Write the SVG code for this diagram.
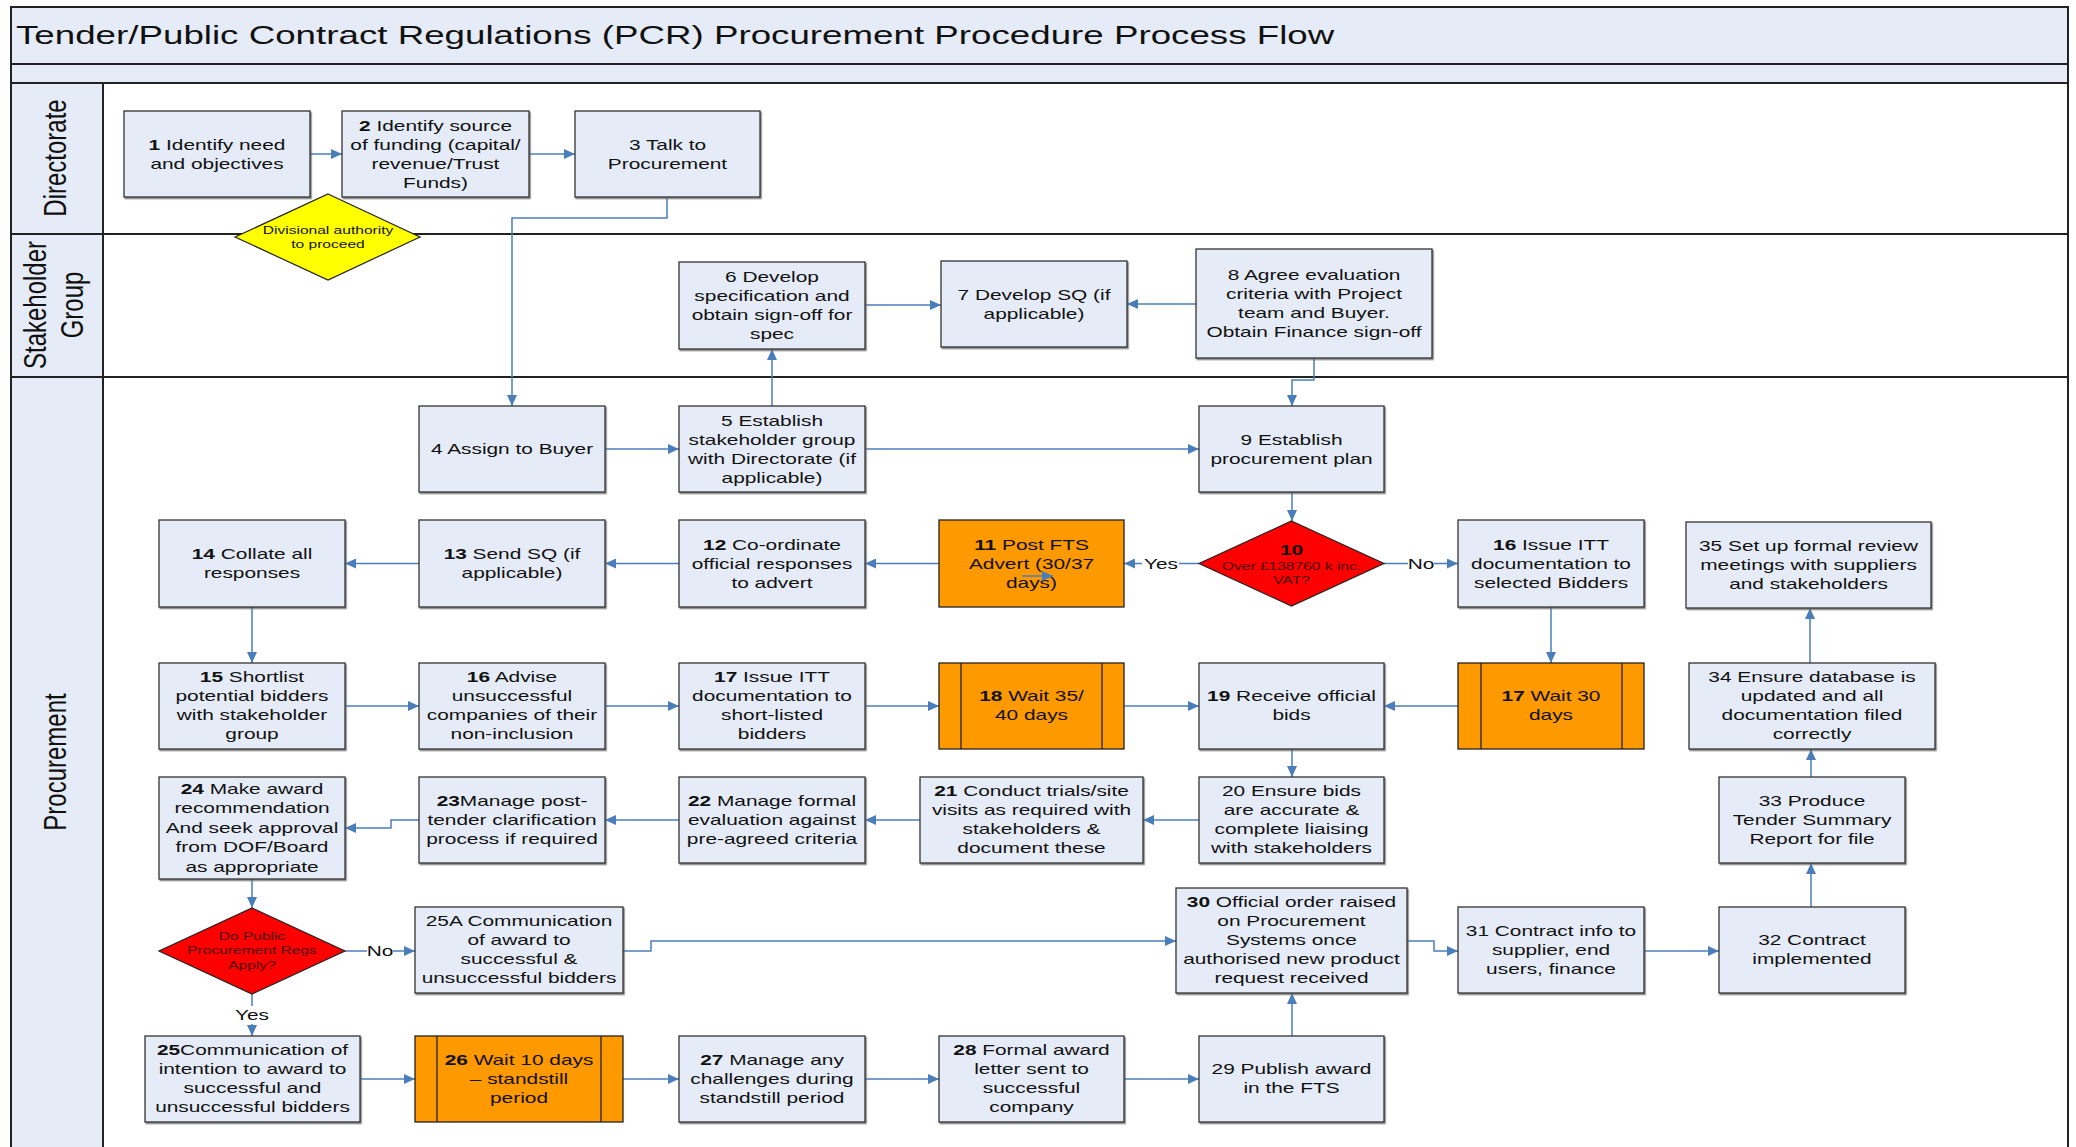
<svg xmlns="http://www.w3.org/2000/svg" width="2076" height="1147" viewBox="0 0 2076 1147">
<defs>
<style>
.t{font-family:"Liberation Sans",Arial,sans-serif;font-size:15px;fill:#111;text-anchor:middle}
.s{font-size:11.2px}
.dr{fill:#4d0000}
.b{font-weight:bold}
.title{font-family:"Liberation Sans",Arial,sans-serif;font-size:25.5px;fill:#111}
.lane{font-family:"Liberation Sans",Arial,sans-serif;font-size:24px;fill:#111;text-anchor:middle}
.box{fill:#E6ECF7;stroke:#333;stroke-width:1.3;filter:url(#sh)}
.org{fill:#FF9900;stroke:#222;stroke-width:1.3}
.red{fill:#FF0000;stroke:#222;stroke-width:1.2}
.yel{fill:#FFFF00;stroke:#222;stroke-width:1.2}
.il{stroke:#222;stroke-width:1.3}
.hdr{fill:#E6ECF7;stroke:#222;stroke-width:2}
.ln{fill:#fff;stroke:#222;stroke-width:2}
.c{fill:none;stroke:#4A7EBB;stroke-width:1.5;marker-end:url(#ah)}
.lb{fill:#fff}
</style>
<marker id="ah" markerUnits="userSpaceOnUse" markerWidth="12" markerHeight="10" refX="11" refY="5" orient="auto">
<path d="M0,0 L11,5 L0,10 Z" fill="#4A7EBB"/>
</marker>
<filter id="sh" x="-5%" y="-5%" width="110%" height="115%">
<feDropShadow dx="1.2" dy="1.5" stdDeviation="0.6" flood-color="#666" flood-opacity="0.8"/>
</filter>
</defs>

<g id="frame">
<rect class="hdr" x="11" y="7" width="2057" height="57"/>
<text class="title" transform="matrix(1.44 0 0 1 16 0)" x="0" y="44">Tender/Public Contract Regulations (PCR) Procurement Procedure Process Flow</text>
<rect class="hdr" x="11" y="64" width="2057" height="19"/>
<rect class="ln" x="11" y="83" width="2057" height="151"/>
<rect class="ln" x="11" y="234" width="2057" height="143"/>
<rect class="ln" x="11" y="377" width="2057" height="780"/>
<rect class="hdr" x="11" y="83" width="92" height="151"/>
<rect class="hdr" x="11" y="234" width="92" height="143"/>
<rect class="hdr" x="11" y="377" width="92" height="780"/>
<text class="lane" transform="translate(66,158) rotate(-90) scale(1,1.3)">Directorate</text>
<text class="lane" transform="translate(46,305) rotate(-90) scale(1,1.3)">Stakeholder</text>
<text class="lane" transform="translate(83,305) rotate(-90) scale(1,1.3)">Group</text>
<text class="lane" transform="translate(66,762) rotate(-90) scale(1,1.3)">Procurement</text>
</g>

<g id="connectors">
<path class="c" d="M310,154 H342"/>
<path class="c" d="M529,154 H575"/>
<path class="c" d="M667,197 V218 H512 V406"/>
<path class="c" d="M772,406 V349"/>
<path class="c" d="M865,305 H941"/>
<path class="c" d="M1196,304 H1127"/>
<path class="c" d="M1314,358 V380 H1292 V406"/>
<path class="c" d="M605,449 H679"/>
<path class="c" d="M865,449 H1199"/>
<path class="c" d="M1292,492 V521"/>
<path class="c" d="M1199,563.5 H1124"/>
<path class="c" d="M1384,563.5 H1458"/>
<path class="c" d="M939,563.5 H865"/>
<path class="c" d="M679,563.5 H605"/>
<path class="c" d="M419,563.5 H345"/>
<path class="c" d="M252,607 V663"/>
<path class="c" d="M345,706 H419"/>
<path class="c" d="M605,706 H679"/>
<path class="c" d="M865,706 H939"/>
<path class="c" d="M1124,706 H1199"/>
<path class="c" d="M1458,706 H1384"/>
<path class="c" d="M1551,607 V663"/>
<path class="c" d="M1292,749 V777"/>
<path class="c" d="M1199,820 H1143"/>
<path class="c" d="M920,820 H865"/>
<path class="c" d="M679,820 H605"/>
<path class="c" d="M419,820 H391 V828 H345"/>
<path class="c" d="M252,879 V908"/>
<path class="c" d="M345,951 H415"/>
<path class="c" d="M252,994 V1036"/>
<path class="c" d="M360,1079 H415"/>
<path class="c" d="M623,1079 H679"/>
<path class="c" d="M865,1079 H939"/>
<path class="c" d="M1124,1079 H1199"/>
<path class="c" d="M1292,1036 V993"/>
<path class="c" d="M623,951 H651 V941 H1176"/>
<path class="c" d="M1407,941 H1434 V951 H1458"/>
<path class="c" d="M1644,951 H1719"/>
<path class="c" d="M1811,907 V863"/>
<path class="c" d="M1811,777 V749"/>
<path class="c" d="M1810,663 V608"/>
<rect class="lb" x="1142" y="554" width="37" height="18"/>
<text class="t" transform="matrix(1.39 0 0 1 1161 0)" x="0" y="569">Yes</text>
<rect class="lb" x="1408" y="554" width="26" height="18"/>
<text class="t" transform="matrix(1.39 0 0 1 1421 0)" x="0" y="569">No</text>
<rect class="lb" x="367" y="942" width="26" height="18"/>
<text class="t" transform="matrix(1.39 0 0 1 380 0)" x="0" y="956">No</text>
<rect class="lb" x="233" y="1006" width="38" height="18"/>
<text class="t" transform="matrix(1.39 0 0 1 252 0)" x="0" y="1020">Yes</text>
</g>

<g id="n1"><rect class="box" x="124" y="111" width="186" height="86"/><text class="t" transform="matrix(1.39 0 0 1 217 0)"><tspan x="0" y="150" class="b">1</tspan><tspan> Identify need</tspan><tspan x="0" y="169">and objectives</tspan></text></g>
<g id="n2"><rect class="box" x="342" y="111" width="187" height="86"/><text class="t" transform="matrix(1.39 0 0 1 435.5 0)"><tspan x="0" y="131" class="b">2</tspan><tspan> Identify source</tspan><tspan x="0" y="150">of funding (capital/</tspan><tspan x="0" y="169">revenue/Trust</tspan><tspan x="0" y="188">Funds)</tspan></text></g>
<g id="n3"><rect class="box" x="575" y="111" width="185" height="86"/><text class="t" transform="matrix(1.39 0 0 1 667.5 0)"><tspan x="0" y="150">3 Talk to</tspan><tspan x="0" y="169">Procurement</tspan></text></g>
<g id="d_auth"><polygon class="yel" points="328,194 420,237 328,280 235,237"/><text class="t s" transform="matrix(1.39 0 0 1 328 0)"><tspan x="0" y="234">Divisional authority</tspan><tspan x="0" y="248">to proceed</tspan></text></g>

<g id="n6"><rect class="box" x="679" y="262" width="186" height="87"/><text class="t" transform="matrix(1.39 0 0 1 772 0)"><tspan x="0" y="282">6 Develop</tspan><tspan x="0" y="301">specification and</tspan><tspan x="0" y="320">obtain sign-off for</tspan><tspan x="0" y="339">spec</tspan></text></g>
<g id="n7"><rect class="box" x="941" y="261" width="186" height="86"/><text class="t" transform="matrix(1.39 0 0 1 1034 0)"><tspan x="0" y="300">7 Develop SQ (if</tspan><tspan x="0" y="319">applicable)</tspan></text></g>
<g id="n8"><rect class="box" x="1196" y="249" width="236" height="109"/><text class="t" transform="matrix(1.39 0 0 1 1314 0)"><tspan x="0" y="280">8 Agree evaluation</tspan><tspan x="0" y="299">criteria with Project</tspan><tspan x="0" y="318">team and Buyer.</tspan><tspan x="0" y="337">Obtain Finance sign-off</tspan></text></g>

<g id="n4"><rect class="box" x="419" y="406" width="186" height="86"/><text class="t" transform="matrix(1.39 0 0 1 512 0)"><tspan x="0" y="454">4 Assign to Buyer</tspan></text></g>
<g id="n5"><rect class="box" x="679" y="406" width="186" height="86"/><text class="t" transform="matrix(1.39 0 0 1 772 0)"><tspan x="0" y="426">5 Establish</tspan><tspan x="0" y="445">stakeholder group</tspan><tspan x="0" y="464">with Directorate (if</tspan><tspan x="0" y="483">applicable)</tspan></text></g>
<g id="n9"><rect class="box" x="1199" y="406" width="185" height="86"/><text class="t" transform="matrix(1.39 0 0 1 1291.5 0)"><tspan x="0" y="445">9  Establish</tspan><tspan x="0" y="464">procurement plan</tspan></text></g>
<g id="n10"><polygon class="red" points="1291.5,521 1384,563.5 1291.5,606 1199,563.5"/><text class="t" transform="matrix(1.39 0 0 1 1291.5 0)"><tspan x="0" y="555" class="b">10</tspan></text><text class="t s dr" transform="matrix(1.39 0 0 1 1291.5 0)"><tspan x="0" y="570">Over £138760 k inc.</tspan><tspan x="0" y="584">VAT?</tspan></text></g>
<g id="n11"><rect class="org" x="939" y="520" width="185" height="87"/><text class="t" transform="matrix(1.39 0 0 1 1031.5 0)"><tspan x="0" y="550" class="b">11</tspan><tspan> Post FTS</tspan><tspan x="0" y="569">Advert  (30/37</tspan><tspan x="0" y="588">days)</tspan></text></g>
<g id="n12"><rect class="box" x="679" y="520" width="186" height="87"/><text class="t" transform="matrix(1.39 0 0 1 772 0)"><tspan x="0" y="550" class="b">12</tspan><tspan> Co-ordinate</tspan><tspan x="0" y="569">official responses</tspan><tspan x="0" y="588">to advert</tspan></text></g>
<g id="n13"><rect class="box" x="419" y="520" width="186" height="87"/><text class="t" transform="matrix(1.39 0 0 1 512 0)"><tspan x="0" y="559" class="b">13</tspan><tspan> Send SQ (if</tspan><tspan x="0" y="578">applicable)</tspan></text></g>
<g id="n14"><rect class="box" x="159" y="520" width="186" height="87"/><text class="t" transform="matrix(1.39 0 0 1 252 0)"><tspan x="0" y="559" class="b">14</tspan><tspan>  Collate all</tspan><tspan x="0" y="578">responses</tspan></text></g>
<g id="n16b"><rect class="box" x="1458" y="520" width="186" height="87"/><text class="t" transform="matrix(1.39 0 0 1 1551 0)"><tspan x="0" y="550" class="b">16</tspan><tspan> Issue ITT</tspan><tspan x="0" y="569">documentation to</tspan><tspan x="0" y="588">selected Bidders</tspan></text></g>
<g id="n35"><rect class="box" x="1686" y="522" width="245" height="86"/><text class="t" transform="matrix(1.39 0 0 1 1808.5 0)"><tspan x="0" y="551">35 Set up formal review</tspan><tspan x="0" y="570">meetings with suppliers</tspan><tspan x="0" y="589">and stakeholders</tspan></text></g>

<g id="n15"><rect class="box" x="159" y="663" width="186" height="86"/><text class="t" transform="matrix(1.39 0 0 1 252 0)"><tspan x="0" y="682.5" class="b">15</tspan><tspan> Shortlist</tspan><tspan x="0" y="701.5">potential bidders</tspan><tspan x="0" y="720.5">with stakeholder</tspan><tspan x="0" y="739.5">group</tspan></text></g>
<g id="n16a"><rect class="box" x="419" y="663" width="186" height="86"/><text class="t" transform="matrix(1.39 0 0 1 512 0)"><tspan x="0" y="682.5" class="b">16</tspan><tspan> Advise</tspan><tspan x="0" y="701.5">unsuccessful</tspan><tspan x="0" y="720.5">companies of their</tspan><tspan x="0" y="739.5">non-inclusion</tspan></text></g>
<g id="n17a"><rect class="box" x="679" y="663" width="186" height="86"/><text class="t" transform="matrix(1.39 0 0 1 772 0)"><tspan x="0" y="682.5" class="b">17</tspan><tspan>  Issue ITT</tspan><tspan x="0" y="701.5">documentation to</tspan><tspan x="0" y="720.5">short-listed</tspan><tspan x="0" y="739.5">bidders</tspan></text></g>
<g id="n18"><rect class="org" x="939" y="663" width="185" height="86"/><line class="il" x1="961" y1="663" x2="961" y2="749"/><line class="il" x1="1102" y1="663" x2="1102" y2="749"/><text class="t" transform="matrix(1.39 0 0 1 1031.5 0)"><tspan x="0" y="701.5" class="b">18</tspan><tspan>  Wait 35/</tspan><tspan x="0" y="720.5">40 days</tspan></text></g>
<g id="n19"><rect class="box" x="1199" y="663" width="185" height="86"/><text class="t" transform="matrix(1.39 0 0 1 1291.5 0)"><tspan x="0" y="701.5" class="b">19</tspan><tspan> Receive official</tspan><tspan x="0" y="720.5">bids</tspan></text></g>
<g id="n17b"><rect class="org" x="1458" y="663" width="186" height="86"/><line class="il" x1="1481" y1="663" x2="1481" y2="749"/><line class="il" x1="1622" y1="663" x2="1622" y2="749"/><text class="t" transform="matrix(1.39 0 0 1 1551 0)"><tspan x="0" y="701.5" class="b">17</tspan><tspan> Wait 30</tspan><tspan x="0" y="720.5">days</tspan></text></g>
<g id="n34"><rect class="box" x="1689" y="663" width="246" height="86"/><text class="t" transform="matrix(1.39 0 0 1 1812 0)"><tspan x="0" y="682.5">34 Ensure database is</tspan><tspan x="0" y="701.5">updated and all</tspan><tspan x="0" y="720.5">documentation filed</tspan><tspan x="0" y="739.5">correctly</tspan></text></g>

<g id="n24"><rect class="box" x="159" y="777" width="186" height="102"/><text class="t" transform="matrix(1.39 0 0 1 252 0)"><tspan x="0" y="794" class="b">24</tspan><tspan> Make award</tspan><tspan x="0" y="813.5">recommendation</tspan><tspan x="0" y="833">And seek approval</tspan><tspan x="0" y="852.5">from DOF/Board</tspan><tspan x="0" y="872">as appropriate</tspan></text></g>
<g id="n23"><rect class="box" x="419" y="777" width="186" height="86"/><text class="t" transform="matrix(1.39 0 0 1 512 0)"><tspan x="0" y="806" class="b">23</tspan><tspan>Manage post-</tspan><tspan x="0" y="825">tender clarification</tspan><tspan x="0" y="844">process if required</tspan></text></g>
<g id="n22"><rect class="box" x="679" y="777" width="186" height="86"/><text class="t" transform="matrix(1.39 0 0 1 772 0)"><tspan x="0" y="806" class="b">22</tspan><tspan> Manage formal</tspan><tspan x="0" y="825">evaluation against</tspan><tspan x="0" y="844">pre-agreed criteria</tspan></text></g>
<g id="n21"><rect class="box" x="920" y="777" width="223" height="86"/><text class="t" transform="matrix(1.39 0 0 1 1031.5 0)"><tspan x="0" y="796.5" class="b">21</tspan><tspan> Conduct trials/site</tspan><tspan x="0" y="815.5">visits as required with</tspan><tspan x="0" y="834.5">stakeholders &amp;</tspan><tspan x="0" y="853.5">document these</tspan></text></g>
<g id="n20"><rect class="box" x="1199" y="777" width="185" height="86"/><text class="t" transform="matrix(1.39 0 0 1 1291.5 0)"><tspan x="0" y="796.5">20 Ensure bids</tspan><tspan x="0" y="815.5">are accurate &amp;</tspan><tspan x="0" y="834.5">complete liaising</tspan><tspan x="0" y="853.5">with stakeholders</tspan></text></g>
<g id="n33"><rect class="box" x="1719" y="777" width="186" height="86"/><text class="t" transform="matrix(1.39 0 0 1 1812 0)"><tspan x="0" y="806">33 Produce</tspan><tspan x="0" y="825">Tender Summary</tspan><tspan x="0" y="844">Report for file</tspan></text></g>

<g id="d_pcr"><polygon class="red" points="252,908 345,951 252,994 159,951"/><text class="t s dr" transform="matrix(1.39 0 0 1 252 0)"><tspan x="0" y="940">Do Public</tspan><tspan x="0" y="954">Procurement Regs</tspan><tspan x="0" y="969">Apply?</tspan></text></g>
<g id="n25a"><rect class="box" x="415" y="907" width="208" height="86"/><text class="t" transform="matrix(1.39 0 0 1 519 0)"><tspan x="0" y="926.5">25A Communication</tspan><tspan x="0" y="945.5">of award to</tspan><tspan x="0" y="964.5">successful &amp;</tspan><tspan x="0" y="983.5">unsuccessful bidders</tspan></text></g>
<g id="n30"><rect class="box" x="1176" y="888" width="231" height="105"/><text class="t" transform="matrix(1.39 0 0 1 1291.5 0)"><tspan x="0" y="907.5" class="b">30</tspan><tspan> Official order raised</tspan><tspan x="0" y="926.5">on Procurement</tspan><tspan x="0" y="945.5">Systems once</tspan><tspan x="0" y="964.5">authorised new product</tspan><tspan x="0" y="983.5">request received</tspan></text></g>
<g id="n31"><rect class="box" x="1458" y="907" width="186" height="86"/><text class="t" transform="matrix(1.39 0 0 1 1551 0)"><tspan x="0" y="936">31 Contract info to</tspan><tspan x="0" y="955">supplier, end</tspan><tspan x="0" y="974">users, finance</tspan></text></g>
<g id="n32"><rect class="box" x="1719" y="907" width="186" height="86"/><text class="t" transform="matrix(1.39 0 0 1 1812 0)"><tspan x="0" y="945.5">32 Contract</tspan><tspan x="0" y="964.5">implemented</tspan></text></g>

<g id="n25"><rect class="box" x="145" y="1036" width="215" height="86"/><text class="t" transform="matrix(1.39 0 0 1 252.5 0)"><tspan x="0" y="1055.5" class="b">25</tspan><tspan>Communication of</tspan><tspan x="0" y="1074.5">intention to award to</tspan><tspan x="0" y="1093.5">successful and</tspan><tspan x="0" y="1112.5">unsuccessful bidders</tspan></text></g>
<g id="n26"><rect class="org" x="415" y="1036" width="208" height="86"/><line class="il" x1="437" y1="1036" x2="437" y2="1122"/><line class="il" x1="601" y1="1036" x2="601" y2="1122"/><text class="t" transform="matrix(1.39 0 0 1 519 0)"><tspan x="0" y="1065" class="b">26</tspan><tspan> Wait 10 days</tspan><tspan x="0" y="1084">– standstill</tspan><tspan x="0" y="1103">period</tspan></text></g>
<g id="n27"><rect class="box" x="679" y="1036" width="186" height="86"/><text class="t" transform="matrix(1.39 0 0 1 772 0)"><tspan x="0" y="1065" class="b">27</tspan><tspan> Manage any</tspan><tspan x="0" y="1084">challenges during</tspan><tspan x="0" y="1103">standstill period</tspan></text></g>
<g id="n28"><rect class="box" x="939" y="1036" width="185" height="86"/><text class="t" transform="matrix(1.39 0 0 1 1031.5 0)"><tspan x="0" y="1055.5" class="b">28</tspan><tspan> Formal award</tspan><tspan x="0" y="1074.5">letter sent to</tspan><tspan x="0" y="1093.5">successful</tspan><tspan x="0" y="1112.5">company</tspan></text></g>
<g id="n29"><rect class="box" x="1199" y="1036" width="185" height="86"/><text class="t" transform="matrix(1.39 0 0 1 1291.5 0)"><tspan x="0" y="1074.5">29 Publish award</tspan><tspan x="0" y="1093.5">in the FTS</tspan></text></g>

<g id="stray">
<path class="c" d="M1022,576 H1053"/>
</g>
</svg>
